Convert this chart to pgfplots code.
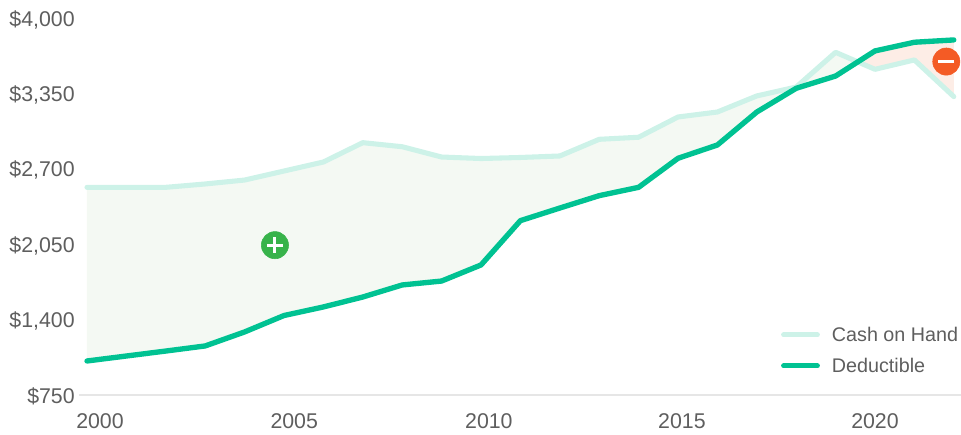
\documentclass[border=0pt]{standalone}
\usepackage{pgfplots}
\usepackage{fontspec}
\setmainfont{Liberation Sans}
\pgfplotsset{compat=1.18}
\usetikzlibrary{plotmarks}
\definecolor{cashline}{HTML}{CDF2E8}
\definecolor{dedline}{HTML}{00C292}
\definecolor{posfill}{HTML}{F4F9F3}
\definecolor{negfill}{HTML}{FDEDE6}
\definecolor{txt}{HTML}{5E5E5E}
\definecolor{baseline}{HTML}{E6E6E6}
\definecolor{plusgreen}{HTML}{37B34A}
\definecolor{minusred}{HTML}{F45B25}
\begin{document}
\begin{tikzpicture}
\useasboundingbox (0pt,0pt) rectangle (720.75pt,326.25pt);
\begin{axis}[
  at={(59.25pt,30pt)}, anchor=south west,
  scale only axis, width=661.5pt, height=282pt,
  xmin=1999.797, xmax=2022.183, ymin=750, ymax=4000,
  clip=false,
  axis lines*=left,
  axis line style={-},
  y axis line style={draw=none},
  x axis line style={draw=baseline, line width=0.9pt},
  major tick length=0pt,
  ytick={750,1400,2050,2700,3350,4000},
  yticklabels={{\$750},{\$1,400},{\$2,050},{\$2,700},{\$3,350},{\$4,000}},
  xtick={2000.33,2005.26,2010.2,2015.1,2020},
  xticklabels={2000,2005,2010,2015,2020},
  y tick label style={text=txt, font=\fontsize{16}{18}\selectfont, inner sep=0pt},
  x tick label style={text=txt, font=\fontsize{16}{18}\selectfont, inner sep=0pt},
  yticklabel style={xshift=-3pt, yshift=-0.7pt},
  xticklabel style={yshift=-14pt},
  legend style={draw=none, fill=none, at={(1.0,0.048)}, anchor=south east,
    font=\fontsize{14.8}{17}\selectfont, text=txt, row sep=7pt, inner sep=0pt,
    cells={anchor=west},
    /tikz/every odd column/.append style={column sep=7pt}},
  legend cell align=left,
  legend image code/.code={\draw[#1, line width=3.6pt, line cap=round] (0pt,0pt) -- (25.5pt,0pt);},
]
% Cash on hand above the deductible
\addplot[draw=none, fill=posfill, forget plot] coordinates {
 (2000,2545)(2001,2545)(2002,2545)(2003,2574)(2004,2608)(2005,2686)(2006,2764)(2007,2931)
 (2008,2896)(2009,2807)(2010,2794)(2011,2803)(2012,2816)(2013,2960)(2014,2978)(2015,3153)
 (2016,3196)(2017,3335)(2018,3412)(2019,3712)(2019.563,3629)
 (2019,3507)(2018,3401)(2017,3196)(2016,2911)(2015,2796)(2014,2545)(2013,2473)(2012,2366)
 (2011,2257)(2010,1874)(2009,1735)(2008,1701)(2007,1597)(2006,1511)(2005,1437)(2004,1295)
 (2003,1174)(2002,1130)(2001,1087)(2000,1044)} -- cycle;
% Cash on hand below the deductible
\addplot[draw=none, fill=negfill, forget plot] coordinates {
 (2019.563,3629)(2020,3724)(2021,3799)(2022,3819)(2022,3329)(2021,3646)(2020,3565)} -- cycle;
\addplot[cashline, line width=3.8pt, line join=round, line cap=round] coordinates {
 (2000,2545)(2001,2545)(2002,2545)(2003,2574)(2004,2608)(2005,2686)(2006,2764)(2007,2931)
 (2008,2896)(2009,2807)(2010,2794)(2011,2803)(2012,2816)(2013,2960)(2014,2978)(2015,3153)
 (2016,3196)(2017,3335)(2018,3412)(2019,3712)(2020,3565)(2021,3646)(2022,3329)};
\addlegendentry{Cash on Hand}
\addplot[dedline, line width=4pt, line join=round, line cap=round] coordinates {
 (2000,1044)(2001,1087)(2002,1130)(2003,1174)(2004,1295)(2005,1437)(2006,1511)(2007,1597)
 (2008,1701)(2009,1735)(2010,1874)(2011,2257)(2012,2366)(2013,2473)(2014,2545)(2015,2796)
 (2016,2911)(2017,3196)(2018,3401)(2019,3507)(2020,3724)(2021,3799)(2022,3819)};
\addlegendentry{Deductible}
% Surplus and shortfall badges
\addplot[only marks, color=plusgreen, mark=*, mark size=10.2pt, mark options={draw=plusgreen, fill=plusgreen}, forget plot]
  coordinates {(2004.77,2045)};
\addplot[only marks, color=white, mark=+, mark size=6pt, mark options={draw=white, line width=2.3pt}, forget plot]
  coordinates {(2004.77,2045)};
\addplot[only marks, color=minusred, mark=*, mark size=10.2pt, mark options={draw=minusred, fill=minusred}, forget plot]
  coordinates {(2021.81,3632)};
\addplot[only marks, color=white, mark=-, mark size=6pt, mark options={draw=white, line width=2.5pt}, forget plot]
  coordinates {(2021.81,3632)};
\end{axis}
\end{tikzpicture}
\end{document}
